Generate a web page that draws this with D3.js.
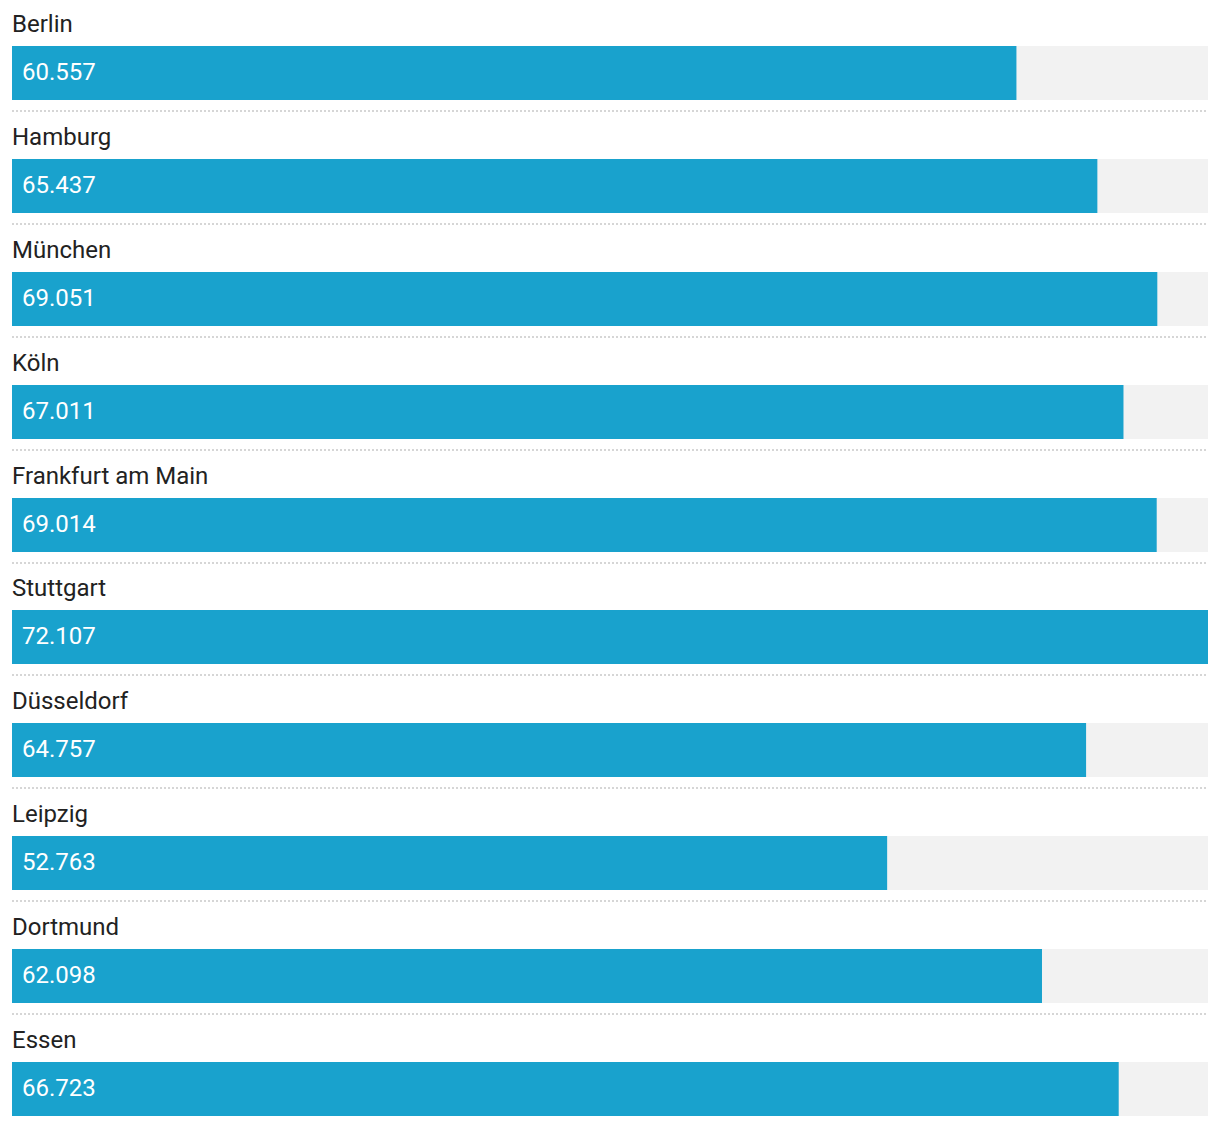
<!DOCTYPE html>
<html>
<head>
<meta charset="utf-8">
<script src="https://cdn.jsdelivr.net/npm/d3@7"></script>
<style>
  html, body { margin: 0; padding: 0; background: #fff; }
  svg { display: block; }
  text { font-family: Roboto, "Noto Sans", sans-serif; }
</style>
</head>
<body>
<svg id="chart" width="1220" height="1126"></svg>
<script>
const cities = ["Berlin", "Hamburg", "München", "Köln", "Frankfurt am Main", "Stuttgart", "Düsseldorf", "Leipzig", "Dortmund", "Essen"];
const values = [60557, 65437, 69051, 67011, 69014, 72107, 64757, 52763, 62098, 66723];

const W = 1220, H = 1126;
const left = 12, right = 1208;
const firstBarTop = 46, lastBarTop = 1062;
const pitch = (lastBarTop - firstBarTop) / (cities.length - 1);
const barH = 54;

const svg = d3.select("#chart");

const y = d3.scaleBand()
  .domain(cities)
  .range([firstBarTop, firstBarTop + pitch * cities.length])
  .paddingInner(0).paddingOuter(0);

const x = d3.scaleLinear()
  .domain([0, d3.max(values)])
  .range([left, right]);

const locale = d3.formatLocale({ decimal: ",", thousands: ".", grouping: [3], currency: ["", " €"] });
const fmt = locale.format(",d");

const data = cities.map((c, i) => ({ city: c, value: values[i] }));

const rows = svg.selectAll("g.row").data(data).join("g")
  .attr("class", "row")
  .attr("transform", d => `translate(0,${Math.round(y(d.city))})`);

rows.append("text")
  .attr("x", left)
  .attr("y", -14)
  .attr("font-size", 24)
  .attr("fill", "#222")
  .text(d => d.city);

rows.append("rect")
  .attr("x", left)
  .attr("y", 0)
  .attr("width", right - left)
  .attr("height", barH)
  .attr("fill", "#f2f2f2");

rows.append("rect")
  .attr("x", x(0))
  .attr("y", 0)
  .attr("width", d => x(d.value) - x(0))
  .attr("height", barH)
  .attr("fill", "#19a2cd");

rows.append("text")
  .attr("x", left + 10)
  .attr("y", barH / 2 + 7)
  .attr("font-size", 24)
  .attr("fill", "#fff")
  .text(d => fmt(d.value));

rows.filter((d, i) => i < data.length - 1)
  .append("line")
  .attr("x1", left)
  .attr("x2", right)
  .attr("y1", barH + 11)
  .attr("y2", barH + 11)
  .attr("stroke", "#d6d6d6")
  .attr("stroke-width", 2)
  .attr("stroke-dasharray", "2,2");
</script>
</body>
</html>
